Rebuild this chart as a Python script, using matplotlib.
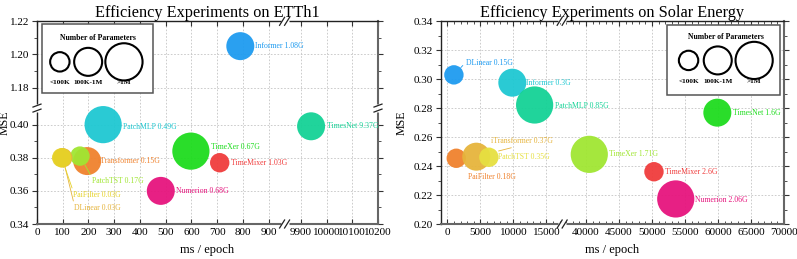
import numpy as np
import matplotlib
matplotlib.use('Agg')
import matplotlib.pyplot as plt
from matplotlib.patches import Rectangle

plt.rcParams['font.family'] = ['Liberation Serif', 'DejaVu Serif']

# ---------------- data ----------------
ett_models = ['Informer', 'PatchMLP', 'TimesNet', 'TimeXer', 'TimeMixer', 'Numerion',
              'iTransformer', 'PatchTST', 'DLinear', 'PaiFilter']
ett_time = [790, 257, 9940, 598, 710, 481, 195, 167, 100, 96]
ett_mse = [1.205, 0.400, 0.399, 0.384, 0.377, 0.360, 0.378, 0.381, 0.380, 0.380]
ett_flops = ['1.08G', '0.49G', '9.37G', '0.67G', '1.03G', '0.68G', '0.15G', '0.17G', '0.03G', '0.03G']
ett_params = ['100K-1M', '>1M', '100K-1M', '>1M', '<100K', '100K-1M', '100K-1M', '<100K', '<100K', '<100K']
ett_colors = ['#1E9BF0', '#1EC8D2', '#14D296', '#1EDC1E', '#F03C3C', '#E6147D',
              '#F0822D', '#A0E632', '#E6B43C', '#E6D228']

sol_models = ['DLinear', 'Informer', 'PatchMLP', 'TimesNet', 'TimeXer', 'PaiFilter',
              'iTransformer', 'PatchTST', 'TimeMixer', 'Numerion']
sol_time = [1000, 9850, 13230, 59900, 40500, 1360, 4390, 6300, 50300, 53600]
sol_mse = [0.303, 0.2976, 0.2822, 0.2769, 0.2481, 0.2454, 0.2465, 0.2461, 0.2361, 0.2173]
sol_flops = ['0.15G', '0.3G', '0.85G', '1.6G', '1.71G', '0.18G', '0.37G', '0.35G', '2.6G', '2.06G']
sol_params = ['<100K', '100K-1M', '>1M', '100K-1M', '>1M', '<100K', '100K-1M', '<100K', '<100K', '>1M']
sol_colors = ['#1E9BF0', '#1EC8D2', '#14D296', '#1EDC1E', '#A0E632', '#F0822D',
              '#E6B43C', '#E6E040', '#F03C3C', '#E6147D']

param_classes = ['<100K', '100K-1M', '>1M']

ett_xticks = [0, 100, 200, 300, 400, 500, 600, 700, 800, 900, 9900, 10000, 10100, 10200]
ett_yticks = [0.34, 0.36, 0.38, 0.40, 1.18, 1.20, 1.22]
ett_yminor = [0.35, 0.37, 0.39, 1.19, 1.21]
sol_xticks = [0, 5000, 10000, 15000, 40000, 45000, 50000, 55000, 60000, 65000, 70000]
sol_yticks = [0.20, 0.22, 0.24, 0.26, 0.28, 0.30, 0.32, 0.34]

# ---------------- layout / style ----------------
W, H, DPI = 797, 259, 100
PX_PT = 72.0 / DPI
radius_px = {'<100K': 9.7, '100K-1M': 14.0, '>1M': 18.6}
size_pt2 = {k: (2 * r * PX_PT) ** 2 for k, r in radius_px.items()}

ett_lab_dx = [15, 20, 15.6, 20, 11.7, 15, 10.5, 11.7, 11.3, 11.3]
ett_lab_dy = [0, -2.4, 0, 4, 0, 0, 0, -25, -50, -37]
ett_leader = [None, None, None, None, None, None, None, ((0.0, 1.0), 10), ((0.0, 1.0), 10), ((0.0, 1.0), 10)]

sol_lab_dx = [11.7, 14, 20.7, 15.6, 20, 11.6, 15, 9, 11, 19.7]
sol_lab_dy = [12.3, 0, -1, 0, 0, -18.4, 15.7, 0.6, -0.6, -1]
sol_leader = [((0.0, 0.5), 10), None, None, None, None, None, ((0.5, 0.0), 23), None, None, None]

fig = plt.figure(figsize=(W / DPI, H / DPI), dpi=DPI)


def px_ax(l, r, t, b):
    return fig.add_axes([l / W, 1 - b / H, (r - l) / W, (b - t) / H])


def make_break(b0, b1, eps):
    def fwd(v):
        v = np.asarray(v, float)
        return np.where(v <= b0, v,
                        np.where(v >= b1, v - (b1 - b0) + eps, b0 + (v - b0) * eps / (b1 - b0)))

    def inv(u):
        u = np.asarray(u, float)
        return np.where(u <= b0, u,
                        np.where(u >= b0 + eps, u + (b1 - b0) - eps, b0 + (u - b0) * (b1 - b0) / eps))
    return fwd, inv


ax1 = px_ax(37, 378, 21.3, 224)
ax2 = px_ax(440.7, 784, 21.3, 224)

ax1.set_xscale('function', functions=make_break(962, 9838, 1.0))
ax1.set_yscale('function', functions=make_break(0.41, 1.168, 0.0004))
ax2.set_xscale('function', functions=make_break(17400, 36400, 10.0))

ax1.set_xlim(0, 10200)
ax1.set_ylim(0.34, 1.22)
ax2.set_xlim(-1000, 70000)
ax2.set_ylim(0.20, 0.34)


def style_axes(ax, xt, yt, xminor, yminor, title, ylab_x):
    ax.set_xticks(xt)
    ax.set_xticklabels([str(v) for v in xt])
    ax.set_yticks(yt)
    ax.set_yticklabels(['%.2f' % v for v in yt])
    ax.set_xticks(xminor, minor=True)
    ax.set_yticks(yminor, minor=True)
    ax.tick_params(axis='both', which='both', labelsize=8, top=True, right=True,
                   color='#333333', pad=2)
    ax.tick_params(axis='x', which='major', direction='in', length=3.5, width=0.8, pad=3)
    ax.tick_params(axis='x', which='minor', direction='in', length=2, width=0.6)
    ax.tick_params(axis='y', which='major', direction='out', length=3.5, width=0.8)
    ax.tick_params(axis='y', which='minor', direction='out', length=2, width=0.6)
    ax.grid(True, which='major', linestyle=(0, (2, 2)), color='#c4c4c4', linewidth=0.6)
    ax.set_axisbelow(True)
    for s in ['left', 'top']:
        ax.spines[s].set_color('#222222')
        ax.spines[s].set_linewidth(1.0)
    for s in ['bottom', 'right']:
        ax.spines[s].set_color('#666666')
        ax.spines[s].set_linewidth(1.5)
    ax.set_xlabel('ms / epoch', fontsize=9, labelpad=5)
    ax.set_ylabel('MSE', fontsize=8.6)
    ax.yaxis.set_label_coords(ylab_x, 0.5)
    ax.set_title(title, fontsize=11.7, pad=3)


style_axes(ax1, ett_xticks, ett_yticks, [], ett_yminor, 'Efficiency Experiments on ETTh1', -0.077)
sol_xminor = [v for v in range(-1000, 70001, 1000) if v not in sol_xticks and (v < 17400 or v > 36400)]
sol_yminor = [0.21, 0.23, 0.25, 0.27, 0.29, 0.31, 0.33]
style_axes(ax2, sol_xticks, sol_yticks, sol_xminor, sol_yminor,
           'Efficiency Experiments on Solar Energy', -0.097)


def draw_bubbles(ax, models, times, mses, flops, params, colors, ldx, ldy, leaders):
    for i in range(len(models)):
        ax.scatter([times[i]], [mses[i]], s=size_pt2[params[i]], color=colors[i],
                   alpha=0.95, edgecolors='none', zorder=2, clip_on=True)
    for i in range(len(models)):
        kw = {}
        if leaders[i] is not None:
            rp, shr = leaders[i]
            kw['arrowprops'] = dict(arrowstyle='-', color=colors[i], lw=0.6, shrinkA=0,
                                    shrinkB=shr * PX_PT, relpos=rp)
        ax.annotate(f'{models[i]} {flops[i]}', xy=(times[i], mses[i]),
                    xytext=(ldx[i] * PX_PT, ldy[i] * PX_PT), textcoords='offset points',
                    ha='left', va='center', fontsize=5.6, color=colors[i], zorder=4, **kw)


draw_bubbles(ax1, ett_models, ett_time, ett_mse, ett_flops, ett_params, ett_colors,
             ett_lab_dx, ett_lab_dy, ett_leader)
draw_bubbles(ax2, sol_models, sol_time, sol_mse, sol_flops, sol_params, sol_colors,
             sol_lab_dx, sol_lab_dy, sol_leader)


def size_legend(ax, x0, x1, y0, y1, cx, cy, ly, tx, ty):
    ax.add_patch(Rectangle((x0, y0), x1 - x0, y1 - y0, transform=ax.transAxes,
                           facecolor='white', edgecolor='#555555', lw=1.1, zorder=6, clip_on=False))
    ax.text(tx, ty, 'Number of Parameters', transform=ax.transAxes, ha='center', va='center',
            fontsize=5.6, fontweight='bold', zorder=7)
    for k, x in zip(param_classes, cx):
        ax.scatter([x], [cy], s=size_pt2[k], transform=ax.transAxes, facecolors='none',
                   edgecolors='black', linewidths=1.5, zorder=7, clip_on=False)
        ax.text(x, ly, k, transform=ax.transAxes, ha='center', va='center',
                fontsize=5.2, fontweight='bold', zorder=7)


size_legend(ax1, 0.014, 0.34, 0.645, 0.985, [0.067, 0.150, 0.255], 0.80, 0.70, 0.18, 0.916)
size_legend(ax2, 0.658, 0.988, 0.636, 0.984, [0.722, 0.807, 0.913], 0.807, 0.702, 0.831, 0.921)


def axes_frac(ax, x=None, y=None):
    xl, yl = ax.get_xlim(), ax.get_ylim()
    px = ax.transData.transform((x if x is not None else xl[0], y if y is not None else yl[0]))
    fx, fy = ax.transAxes.inverted().transform(px)
    return fx, fy


def xbreak(ax, xdata):
    fig.canvas.draw()
    bb = ax.get_window_extent()
    fx, _ = axes_frac(ax, x=xdata)
    ux, uy = 1.0 / bb.width, 1.0 / bb.height
    for yy in (0.0, 1.0):
        ax.plot([fx - 4 * ux, fx + 4 * ux], [yy, yy], color='white', lw=2.5,
                transform=ax.transAxes, clip_on=False, zorder=8, solid_capstyle='butt')
        for o in (-2.5, 2.5):
            ax.plot([fx + (o - 2.5) * ux, fx + (o + 2.5) * ux], [yy - 4 * uy, yy + 4 * uy],
                    color='#222222', lw=0.9, transform=ax.transAxes, clip_on=False, zorder=9)


def ybreak(ax, ydata):
    fig.canvas.draw()
    bb = ax.get_window_extent()
    _, fy = axes_frac(ax, y=ydata)
    ux, uy = 1.0 / bb.width, 1.0 / bb.height
    for xx in (0.0, 1.0):
        ax.plot([xx, xx], [fy - 4 * uy, fy + 4 * uy], color='white', lw=2.5,
                transform=ax.transAxes, clip_on=False, zorder=8, solid_capstyle='butt')
        for o in (-2.5, 2.5):
            ax.plot([xx - 4 * ux, xx + 4 * ux], [fy + (o - 1.5) * uy, fy + (o + 1.5) * uy],
                    color='#222222', lw=0.9, transform=ax.transAxes, clip_on=False, zorder=9)


xbreak(ax1, 962.5)
ybreak(ax1, 0.4102)
xbreak(ax2, 17405)

fig.savefig('out.png', dpi=DPI)
